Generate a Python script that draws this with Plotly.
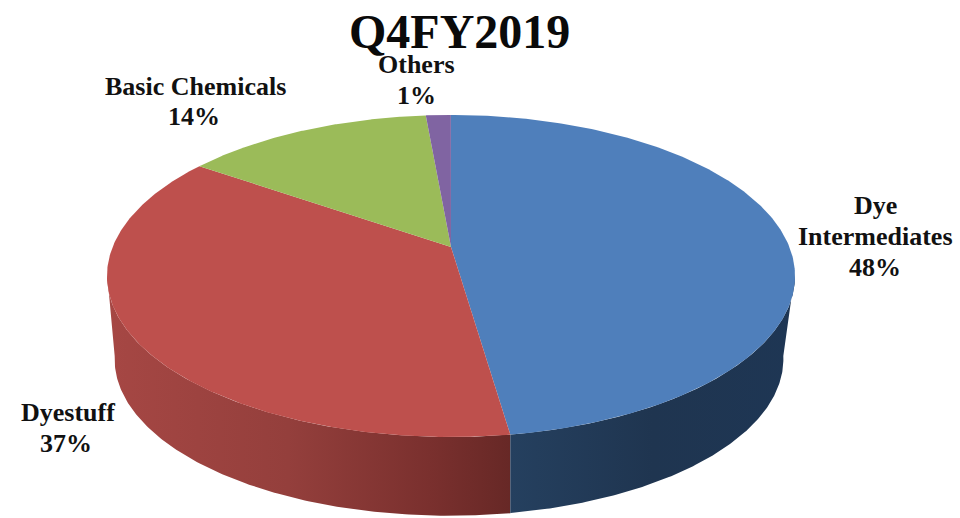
import numpy as np
import plotly.graph_objects as go

# Data (clockwise from 12 o'clock)
categories = ["Dye Intermediates", "Dyestuff", "Basic Chemicals", "Others"]
shares = [47.7, 37.0, 13.9, 1.4]
printed = ["48%", "37%", "14%", "1%"]
title_text = "Q4FY2019"

# Styles
top_colors = ["#4F7FBB", "#BE504D", "#9BBB59", "#8064A2"]
wall_scales = {
    0: [[0, "#25405F"], [0.5, "#1F3550"], [1, "#1E3654"]],
    1: [[0, "#A64744"], [0.45, "#943F3C"], [0.8, "#7A302E"], [1, "#672826"]],
}
FONT = "Liberation Serif"

# Perspective model of the tilted disc
CX, APEX_Y, A, C, D = 451.0, 247.0, 155.8, 0.18, 338.4
WALL_CX, WALL_DY, WALL_S = 449.0, 84.0, 0.972


def project(t, cx=CX, apex=APEX_Y, s=1.0):
    u, v = np.sin(t), np.cos(t)
    den = 1 + C * v
    return cx + s * D * u / den, apex - s * A * v / den


fracs = np.cumsum([0] + shares) / sum(shares)
angles = 2 * np.pi * fracs
TANGENT = np.pi - np.arccos(C)   # right silhouette
LEFT_TAN = np.pi + np.arccos(C)  # left silhouette

fig = go.Figure()

# Side walls: slices crossing the visible front of the disc
for i in (1, 0):
    a0 = max(angles[i], TANGENT - 0.02)
    a1 = min(angles[i + 1], LEFT_TAN + 0.02)
    t = np.linspace(a0, a1, 160)
    xt, yt = project(t)
    xb, yb = project(t[::-1], WALL_CX, APEX_Y + WALL_DY, WALL_S)
    # the joint between the two walls runs straight down, as in the reference
    if i == 1:
        xb[-1] = xt[0]
    else:
        xb[0] = xt[-1]
    fig.add_trace(go.Scatter(
        x=np.r_[xt, xb, xt[0]], y=np.r_[yt, yb, yt[0]],
        mode="lines", line=dict(width=0), fill="toself",
        fillgradient=dict(type="horizontal", colorscale=wall_scales[i]),
        hoverinfo="skip", showlegend=False,
    ))

# Top face slices
for i, name in enumerate(categories):
    t = np.linspace(angles[i], angles[i + 1], 240)
    x, y = project(t)
    fig.add_trace(go.Scatter(
        x=np.r_[CX, x, CX], y=np.r_[APEX_Y, y, APEX_Y],
        mode="lines", line=dict(width=0), fill="toself",
        fillcolor=top_colors[i], name=name, showlegend=False,
        hovertemplate=f"{name}: {printed[i]}<extra></extra>",
    ))

label_lines = [
    ("Dye", 875, 205), ("Intermediates", 875, 236), (printed[0], 875, 267),
    ("Dyestuff", 68, 412), (printed[1], 66, 443),
    ("Basic Chemicals", 195, 86), (printed[2], 194, 116),
    ("Others", 416, 64), (printed[3], 416, 95),
]
for text, lx, ly in label_lines:
    fig.add_annotation(x=lx, y=ly, xref="x", yref="y", text=f"<b>{text}</b>",
                       showarrow=False, xanchor="center", yanchor="middle",
                       font=dict(family=FONT, size=26, color="#111111"))

fig.add_annotation(x=459, y=31, xref="x", yref="y", text=f"<b>{title_text}</b>",
                   showarrow=False, xanchor="center", yanchor="middle",
                   font=dict(family=FONT, size=48, color="#0A0A0A"))

fig.update_layout(
    width=960, height=518, margin=dict(l=0, r=0, t=0, b=0),
    paper_bgcolor="white", plot_bgcolor="white", showlegend=False,
    xaxis=dict(range=[0, 960], visible=False, fixedrange=True),
    yaxis=dict(range=[518, 0], visible=False, fixedrange=True),
)
fig.write_html("out.html", config={"displayModeBar": False},
               post_script="document.body.style.margin='0';document.body.style.overflow='hidden';")
